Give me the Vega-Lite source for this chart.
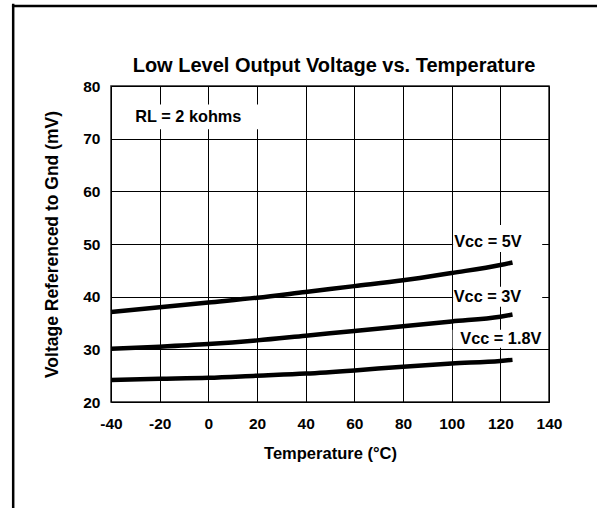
{
  "$schema": "https://vega.github.io/schema/vega-lite/v6.json",
  "width": 438,
  "height": 316,
  "autosize": {"type": "none"},
  "padding": {"left": 111, "top": 86, "right": 48, "bottom": 106},
  "background": "white",
  "config": {
    "font": "Liberation Sans",
    "view": {"stroke": "#222222", "strokeWidth": 1.5},
    "axis": {
      "domain": false,
      "ticks": false,
      "gridColor": "#000000",
      "gridWidth": 1,
      "gridOpacity": 1,
      "labelFont": "Liberation Sans",
      "labelFontWeight": "bold",
      "labelFontSize": 15.5,
      "labelColor": "#000000",
      "labelFlush": false,
      "titleFont": "Liberation Sans",
      "titleFontWeight": "bold",
      "titleColor": "#000000"
    }
  },
  "title": {
    "text": "Low Level Output Voltage vs. Temperature",
    "font": "Liberation Sans",
    "fontSize": 20,
    "fontWeight": "bold",
    "color": "#000000",
    "anchor": "middle",
    "frame": "group",
    "baseline": "alphabetic",
    "offset": -89,
    "dx": 4
  },
  "datasets": {
    "curves": [
      {"series": "Vcc = 5V", "temp": -40, "mv": 37.1},
      {"series": "Vcc = 5V", "temp": -20, "mv": 38.0},
      {"series": "Vcc = 5V", "temp": 0, "mv": 38.9},
      {"series": "Vcc = 5V", "temp": 20, "mv": 39.8},
      {"series": "Vcc = 5V", "temp": 40, "mv": 40.9},
      {"series": "Vcc = 5V", "temp": 60, "mv": 42.0},
      {"series": "Vcc = 5V", "temp": 80, "mv": 43.1},
      {"series": "Vcc = 5V", "temp": 100, "mv": 44.5},
      {"series": "Vcc = 5V", "temp": 120, "mv": 46.0},
      {"series": "Vcc = 5V", "temp": 125, "mv": 46.5},
      {"series": "Vcc = 3V", "temp": -40, "mv": 30.1},
      {"series": "Vcc = 3V", "temp": -20, "mv": 30.5},
      {"series": "Vcc = 3V", "temp": 0, "mv": 31.0},
      {"series": "Vcc = 3V", "temp": 20, "mv": 31.7},
      {"series": "Vcc = 3V", "temp": 40, "mv": 32.6},
      {"series": "Vcc = 3V", "temp": 60, "mv": 33.5},
      {"series": "Vcc = 3V", "temp": 80, "mv": 34.4},
      {"series": "Vcc = 3V", "temp": 100, "mv": 35.3},
      {"series": "Vcc = 3V", "temp": 120, "mv": 36.2},
      {"series": "Vcc = 3V", "temp": 125, "mv": 36.6},
      {"series": "Vcc = 1.8V", "temp": -40, "mv": 24.2},
      {"series": "Vcc = 1.8V", "temp": -20, "mv": 24.4},
      {"series": "Vcc = 1.8V", "temp": 0, "mv": 24.6},
      {"series": "Vcc = 1.8V", "temp": 20, "mv": 25.0},
      {"series": "Vcc = 1.8V", "temp": 40, "mv": 25.4},
      {"series": "Vcc = 1.8V", "temp": 60, "mv": 26.0},
      {"series": "Vcc = 1.8V", "temp": 80, "mv": 26.7},
      {"series": "Vcc = 1.8V", "temp": 100, "mv": 27.3},
      {"series": "Vcc = 1.8V", "temp": 120, "mv": 27.8},
      {"series": "Vcc = 1.8V", "temp": 125, "mv": 28.0}
    ],
    "labels": [
      {"text": "RL = 2 kohms", "temp": -8.2, "mv": 74.1, "t1": -38.5, "t2": 25, "v1": 71.8, "v2": 76.5},
      {"text": "Vcc = 5V", "temp": 114.9, "mv": 50.4, "t1": 100.6, "t2": 137.2, "v1": 48.5, "v2": 53.6},
      {"text": "Vcc = 3V", "temp": 114.7, "mv": 39.9, "t1": 100.6, "t2": 137.2, "v1": 38.1, "v2": 41.9},
      {"text": "Vcc = 1.8V", "temp": 120.2, "mv": 31.9, "t1": 100.4, "t2": 139.2, "v1": 30.3, "v2": 33.7}
    ],
    "frame": [
      {"part": "left", "t1": -80.2, "t2": -80.2, "v1": 95.6, "v2": -2},
      {"part": "top", "t1": -80.7, "t2": 170, "v1": 95.2, "v2": 95.2}
    ]
  },
  "layer": [
    {
      "data": {"name": "labels"},
      "mark": {"type": "rect", "fill": "white", "stroke": null},
      "encoding": {
        "x": {
          "field": "t1", "type": "quantitative",
          "scale": {"domain": [-40, 140], "nice": false, "zero": false},
          "axis": {
            "title": "Temperature (°C)",
            "titleFontSize": 16.5,
            "titlePadding": 13.5,
            "values": [-40, -30, -20, -10, 0, 10, 20, 30, 40, 50, 60, 70, 80, 90, 100, 110, 120, 130, 140],
            "labelExpr": "datum.value % 20 === 0 ? '' + datum.value : ''",
            "gridDash": {"condition": {"test": "datum.value % 20 === 0", "value": []}, "value": [3, 2000]},
            "labelPadding": 14.5
          }
        },
        "x2": {"field": "t2"},
        "y": {
          "field": "v1", "type": "quantitative",
          "scale": {"domain": [20, 80], "nice": false, "zero": false},
          "axis": {
            "title": "Voltage Referenced to Gnd (mV)",
            "titleFontSize": 17.5,
            "titlePadding": 21,
            "values": [20, 25, 30, 35, 40, 45, 50, 55, 60, 65, 70, 75, 80],
            "labelExpr": "datum.value % 10 === 0 ? '' + datum.value : ''",
            "gridDash": {"condition": {"test": "datum.value % 10 === 0", "value": []}, "value": [4, 2000]},
            "labelPadding": 11
          }
        },
        "y2": {"field": "v2"}
      }
    },
    {
      "data": {"name": "curves"},
      "mark": {"type": "line", "color": "#000000", "strokeWidth": 4.5, "interpolate": "monotone"},
      "encoding": {
        "x": {"field": "temp", "type": "quantitative"},
        "y": {"field": "mv", "type": "quantitative"},
        "detail": {"field": "series"}
      }
    },
    {
      "data": {"name": "labels"},
      "mark": {"type": "text", "font": "Liberation Sans", "fontWeight": "bold", "fontSize": 16.3, "color": "#000000", "align": "center", "baseline": "middle"},
      "encoding": {
        "x": {"field": "temp", "type": "quantitative"},
        "y": {"field": "mv", "type": "quantitative"},
        "text": {"field": "text"}
      }
    },
    {
      "data": {"name": "frame"},
      "mark": {"type": "rule", "color": "#000000", "strokeWidth": 2.5},
      "encoding": {
        "x": {"field": "t1", "type": "quantitative"},
        "x2": {"field": "t2"},
        "y": {"field": "v1", "type": "quantitative"},
        "y2": {"field": "v2"}
      }
    }
  ]
}
